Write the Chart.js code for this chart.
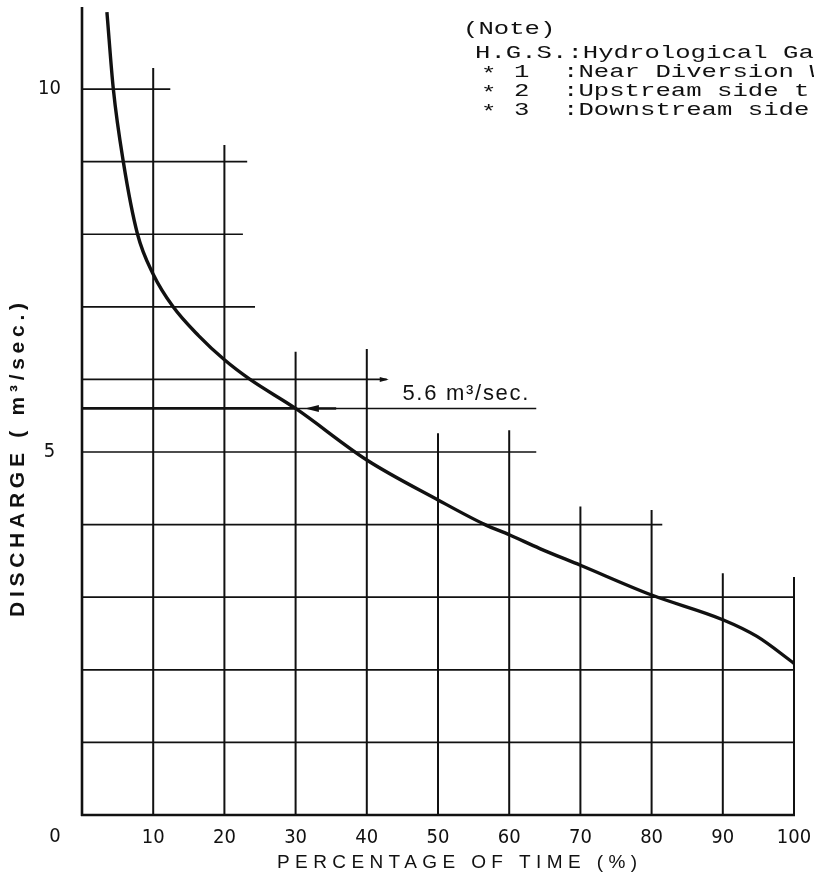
<!DOCTYPE html>
<html>
<head>
<meta charset="utf-8">
<script src="https://cdn.jsdelivr.net/npm/chart.js@4/dist/chart.umd.min.js"></script>
<style>
  html, body { margin: 0; padding: 0; background: #ffffff; }
  #wrap { width: 814px; height: 878px; }
</style>
</head>
<body>
<div id="wrap"><canvas id="c" width="814" height="878"></canvas></div>
<script>
// Flow duration curve: percentage of time a discharge is equalled or exceeded
const percentTime = [3.5, 4.4, 5.8, 7.8, 10, 12.8, 16.4, 20, 23.6, 30, 40, 50, 56.6, 60, 64.3, 70, 80, 90, 94.8, 100];
const discharge   = [11.06, 10, 9, 8, 7.45, 7.0, 6.6, 6.27, 6.0, 5.6, 4.89, 4.34, 4.0, 3.86, 3.67, 3.44, 3.03, 2.69, 2.46, 2.09];

// Axis ticks
const xTickLabels = ['10', '20', '30', '40', '50', '60', '70', '80', '90', '100'];
const yTickLabels = { 5: '5', 10: '10' };
const originLabel = '0';

// Graph-paper rulings: each vertical rule rises to a given discharge,
// each horizontal rule runs out to a given percentage
const verticalRuleAt   = [10, 20, 30, 40, 50, 60, 70, 80, 90, 100];
const verticalRuleTop  = [10.29, 9.23, 6.38, 6.42, 5.26, 5.30, 4.25, 4.20, 3.33, 3.28];
const horizontalRuleAt  = [1, 2, 3, 4, 5, 6, 7, 8, 9, 10];
const horizontalRuleEnd = [100, 100, 100, 81.5, 63.8, 42.8, 24.3, 22.6, 23.2, 12.4];

// Marked design discharge
const markedDischarge = 5.6;
const markedPercent = 30;
const markedLineEnd = 63.8;
const markedLabel = '5.6 m\u00B3/sec.';

// Titles and note block
const xTitle = 'PERCENTAGE OF TIME (%)';
const yTitle = 'DISCHARGE ( m\u00B3/sec.)';
const noteTitle = '(Note)';
const noteRows = [
  { key: 'H.G.S.', text: ':Hydrological Ga' },
  { key: '* 1', text: ':Near Diversion W' },
  { key: '* 2', text: ':Upstream side t' },
  { key: '* 3', text: ':Downstream side' }
];

const INK = '#111111';
const NARROW = '"Liberation Sans Narrow", "DejaVu Sans Condensed", "Liberation Sans", sans-serif';
const SANS = '"Liberation Sans", "DejaVu Sans", sans-serif';
const MONO = '"Liberation Mono", "DejaVu Sans Mono", monospace';

// draw text stretched to a target width using letter spacing
function spacedText(ctx, str, x, y, width, align) {
  ctx.letterSpacing = '0px';
  const w0 = ctx.measureText(str).width;
  const n = [...str].length;
  const sp = n > 1 ? (width - w0) / (n - 1) : 0;
  ctx.letterSpacing = sp + 'px';
  let startX = x;
  if (align === 'center') startX = x - width / 2;
  ctx.textAlign = 'left';
  ctx.fillText(str, startX, y);
  ctx.letterSpacing = '0px';
}

const paperPlugin = {
  id: 'paper',
  beforeDatasetsDraw(chart) {
    const { ctx, scales: { x, y } } = chart;
    ctx.save();
    ctx.strokeStyle = INK;
    ctx.fillStyle = INK;
    ctx.lineCap = 'butt';

    // vertical rules
    ctx.lineWidth = 2;
    verticalRuleAt.forEach((p, i) => {
      ctx.beginPath();
      ctx.moveTo(x.getPixelForValue(p), y.getPixelForValue(0));
      ctx.lineTo(x.getPixelForValue(p), y.getPixelForValue(verticalRuleTop[i]));
      ctx.stroke();
    });

    // horizontal rules
    ctx.lineWidth = 1.7;
    horizontalRuleAt.forEach((q, i) => {
      ctx.beginPath();
      ctx.moveTo(x.getPixelForValue(0), y.getPixelForValue(q));
      ctx.lineTo(x.getPixelForValue(horizontalRuleEnd[i]), y.getPixelForValue(q));
      ctx.stroke();
    });
    // small arrow tip on the 6 rule
    {
      const ex = x.getPixelForValue(horizontalRuleEnd[5]);
      const ey = y.getPixelForValue(6);
      ctx.beginPath();
      ctx.moveTo(ex + 2, ey);
      ctx.lineTo(ex - 7, ey - 2.5);
      ctx.lineTo(ex - 7, ey + 2.5);
      ctx.closePath();
      ctx.fill();
    }

    // marked discharge line
    const my = y.getPixelForValue(markedDischarge);
    ctx.lineWidth = 2.8;
    ctx.beginPath();
    ctx.moveTo(x.getPixelForValue(0), my);
    ctx.lineTo(x.getPixelForValue(markedPercent), my);
    ctx.stroke();
    ctx.lineWidth = 1.5;
    ctx.beginPath();
    ctx.moveTo(x.getPixelForValue(markedPercent), my);
    ctx.lineTo(x.getPixelForValue(markedLineEnd), my);
    ctx.stroke();
    // arrow pointing at the curve
    const ax = x.getPixelForValue(markedPercent + 1.3);
    ctx.lineWidth = 2.4;
    ctx.beginPath();
    ctx.moveTo(ax + 6, my);
    ctx.lineTo(x.getPixelForValue(markedPercent + 5.7), my);
    ctx.stroke();
    ctx.beginPath();
    ctx.moveTo(ax, my);
    ctx.lineTo(ax + 14, my - 3.5);
    ctx.lineTo(ax + 14, my + 3.5);
    ctx.closePath();
    ctx.fill();

    // axes
    ctx.lineWidth = 2.6;
    ctx.beginPath();
    ctx.moveTo(x.getPixelForValue(0), y.getPixelForValue(0) + 1);
    ctx.lineTo(x.getPixelForValue(0), y.getPixelForValue(y.max));
    ctx.stroke();
    ctx.beginPath();
    ctx.moveTo(x.getPixelForValue(0) - 1, y.getPixelForValue(0));
    ctx.lineTo(x.getPixelForValue(100) + 1, y.getPixelForValue(0));
    ctx.stroke();
    ctx.restore();
  },
  afterDraw(chart) {
    const { ctx, scales: { x, y } } = chart;
    ctx.save();
    ctx.fillStyle = INK;
    ctx.textBaseline = 'alphabetic';

    // value label on the marked line
    ctx.font = '22px ' + SANS;
    spacedText(ctx, markedLabel, x.getPixelForValue(45), y.getPixelForValue(markedDischarge) - 8, 126, 'left');

    // origin label
    ctx.font = '20px ' + NARROW;
    ctx.textAlign = 'center';
    ctx.textBaseline = 'middle';
    ctx.fillText(originLabel, x.getPixelForValue(0) - 27, y.getPixelForValue(0) + 22);

    // axis titles
    ctx.textBaseline = 'middle';
    ctx.font = '19px ' + SANS;
    spacedText(ctx, xTitle, 457, 863, 360, 'center');

    ctx.save();
    ctx.translate(18, 460);
    ctx.rotate(-Math.PI / 2);
    ctx.font = 'bold 21px ' + SANS;
    spacedText(ctx, yTitle, 0, 0, 314, 'center');
    ctx.restore();

    // note block (typewritten, wide monospace)
    ctx.textBaseline = 'middle';
    ctx.textAlign = 'left';
    ctx.font = '19px ' + MONO;
    const natural = ctx.measureText('M').width;
    const sx = 15.4 / natural;
    ctx.save();
    ctx.scale(sx, 1);
    const put = (str, px, py) => ctx.fillText(str, px / sx, py);
    put(noteTitle, 463, 29);
    put(noteRows[0].key + noteRows[0].text, 475, 53);
    const rowY = [72, 91, 110];
    for (let i = 1; i < noteRows.length; i++) {
      const parts = noteRows[i].key.split(' ');
      put(parts[0], 481, rowY[i - 1] + 2);
      put(parts[1], 514, rowY[i - 1]);
      put(noteRows[i].text, 563, rowY[i - 1]);
    }
    ctx.restore();
    ctx.restore();
  }
};

new Chart(document.getElementById('c'), {
  type: 'line',
  data: {
    datasets: [{
      data: percentTime.map((p, i) => ({ x: p, y: discharge[i] })),
      borderColor: INK,
      borderWidth: 3.4,
      pointRadius: 0,
      fill: false,
      cubicInterpolationMode: 'monotone'
    }]
  },
  options: {
    responsive: false,
    devicePixelRatio: 1,
    animation: false,
    layout: { padding: { top: 7, right: 20, left: 0, bottom: 0 } },
    plugins: { legend: { display: false }, tooltip: { enabled: false } },
    scales: {
      x: {
        type: 'linear',
        min: 0,
        max: 100,
        grid: { display: false },
        border: { display: false },
        ticks: {
          stepSize: 10,
          autoSkip: false,
          maxRotation: 0,
          padding: 3,
          color: INK,
          font: { family: NARROW, size: 20 },
          callback: (v) => (v === 0 ? '' : xTickLabels[Math.round(v / 10) - 1] ?? '')
        },
        afterFit: (s) => { s.height = 63; s.paddingLeft = 0; s.paddingRight = 0; }
      },
      y: {
        min: 0,
        max: 11.13,
        grid: { display: false },
        border: { display: false },
        ticks: {
          stepSize: 1,
          autoSkip: false,
          padding: 13,
          crossAlign: 'center',
          color: INK,
          font: { family: NARROW, size: 20 },
          callback: (v) => yTickLabels[v] ?? ''
        },
        afterFit: (s) => { s.width = 82; s.paddingTop = 0; s.paddingBottom = 0; }
      }
    }
  },
  plugins: [paperPlugin]
});
</script>
</body>
</html>
